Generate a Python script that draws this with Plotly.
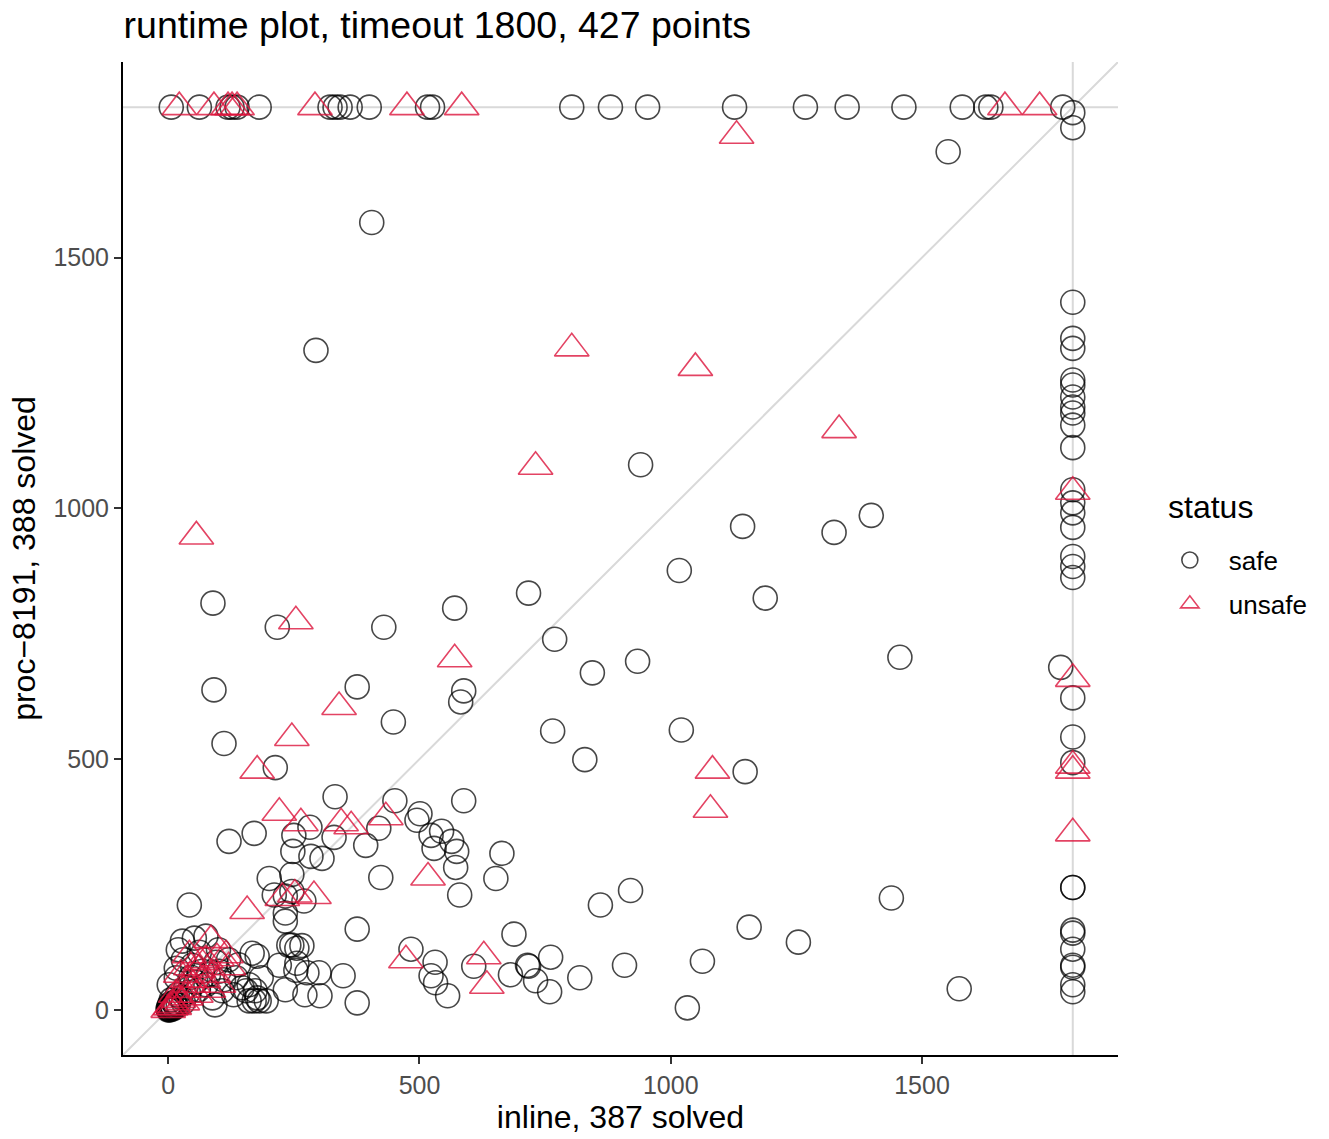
import plotly.graph_objects as go

TIMEOUT = 1800
AX_RANGE = [-90, 1890]
TICKS = [0, 500, 1000, 1500]
TITLE = "runtime plot, timeout 1800, 427 points"
X_TITLE = "inline, 387 solved"
Y_TITLE = "proc\u22128191, 388 solved"
LEGEND_TITLE = "status"

# ---- safe (circles) ----
safe_x = [
    # proc timed out (top row)
    6, 62, 119, 127, 137, 181, 322, 332, 342, 362, 400, 516, 526, 803, 880, 954,
    1127, 1268, 1351, 1464, 1580, 1627, 1637, 1780, 1800, 1800, 1552,
    # inline timed out (right column)
    1800, 1800, 1800, 1800, 1800, 1800, 1800, 1800, 1800, 1800, 1800, 1800, 1800,
    1800, 1800, 1800, 1800, 1800, 1800, 1800, 1800, 1800, 1800, 1800, 1800, 1800,
    1800, 1800, 1800, 1776,
    # scattered
    405, 294, 940, 1143, 1325, 1399, 1017, 1188, 89, 570, 217, 429, 717, 769, 844,
    934, 1456, 91, 376, 588, 582, 448, 111, 765, 1021, 213, 829, 1148, 332, 451,
    588, 501, 495, 523, 544, 529, 564, 574, 572, 664, 652, 121, 171, 250, 282, 330,
    248, 284, 306, 393, 419, 201, 246, 423, 580, 376, 483, 531, 523, 532, 556, 608,
    688, 681, 715, 348, 376, 302, 300, 276, 254, 256, 266, 270, 920, 860, 1156,
    1254, 1063, 908, 1033, 819, 761, 717, 731, 759, 1439, 1574, 42, 211, 233, 246,
    233, 233, 177, 221, 246, 256, 272, 233, 173, 161, 181, 147, 93,
    # dense cluster near origin
    28, 52, 75, 16, 16, 2, 101, 107, 88, 68, 48, 135, 167, 161, 177, 195, 171, 155,
    185, 240, 0, 1, 2, 3, 5, 8, 10, 4, 12, 15, 20, 6, 25, 30, 18, 40, 35, 55, 60,
    45, 75, 80, 95, 110, 120, 130, 140, 62, 100, 30, 20, 0, 3, 7, 2, 9, 14,
]
safe_y = [
    1800, 1800, 1800, 1800, 1800, 1800, 1800, 1800, 1800, 1800, 1800, 1800, 1800,
    1800, 1800, 1800, 1800, 1800, 1800, 1800, 1800, 1800, 1800, 1800, 1789, 1759,
    1711,
    1411, 1339, 1319, 1256, 1246, 1222, 1202, 1190, 1166, 1121, 1037, 1011, 991,
    962, 904, 884, 862, 622, 544, 493, 244, 244, 159, 153, 121, 89, 85, 50, 36, 683,
    1570, 1315, 1087, 964, 952, 986, 876, 821, 811, 801, 763, 763, 831, 739, 672,
    695, 703, 638, 644, 636, 614, 574, 531, 556, 558, 483, 499, 475, 425, 417,
    417, 391, 378, 348, 356, 322, 336, 316, 284, 312, 262, 336, 352, 348, 364, 344,
    316, 306, 302, 328, 362, 262, 270, 264, 229, 161, 121, 95, 68, 54, 28, 87,
    151, 70, 89, 68, 14, 28, 74, 74, 79, 123, 128, 217, 238, 209, 165,
    135, 97, 89, 4, 64, 105, 87, 58, 36, 223, 42, 209, 229, 227, 236,
    193, 177, 107, 89, 129, 93, 30, 40, 38, 18, 18, 44, 10,
    137, 143, 147, 83, 64, 50, 77, 38, 24, 77, 89, 64, 113, 50, 24, 18, 18, 38,
    64, 129, 0, 2, 1, 5, 3, 8, 4, 12, 15, 6, 10, 20, 25, 15, 30, 35, 45, 55, 40,
    65, 50, 70, 95, 60, 100, 30, 90, 115, 120, 100, 120, 3, 0, 6, 9, 2, 11,
]

# ---- unsafe (triangles) ----
unsafe_x = [
    22, 91, 119, 127, 137, 292, 475, 584, 1665, 1734, 1131,
    1800, 1800, 1800, 1800, 1800,
    803, 1049, 1335, 731, 56, 254, 570, 340, 246, 177, 1083, 1079, 221, 264, 344,
    364, 433, 517, 157, 227, 290, 473, 628, 634, 252,
    85, 115, 97, 75, 42, 60, 40, 30, 20, 10, 5, 50, 70, 90, 25, 15, 35, 55, 80,
    100, 120, 65, 45, 0, 12, 28,
]
unsafe_y = [
    1800, 1800, 1800, 1800, 1800, 1800, 1800, 1800, 1800, 1800, 1743,
    1033, 660, 487, 477, 352,
    1319, 1280, 1156, 1083, 944, 775, 699, 604, 542, 477, 477, 399, 393, 372, 372,
    366, 384, 264, 197, 223, 227, 99, 107, 48, 230,
    139, 109, 103, 99, 109, 80, 60, 40, 20, 10, 5, 50, 60, 70, 70, 30, 25, 30, 40,
    50, 85, 95, 85, 0, 6, 15,
]

FONT = "Liberation Sans, Arial, Helvetica, sans-serif"

fig = go.Figure()
fig.add_trace(go.Scatter(
    x=safe_x, y=safe_y, mode="markers", name="safe", legendgroup="safe",
    marker=dict(symbol="circle-open", size=24, color="rgba(0,0,0,0.72)",
                line=dict(width=1.6, color="rgba(0,0,0,0.72)")),
))
fig.add_trace(go.Scatter(
    x=unsafe_x, y=unsafe_y, mode="markers", name="unsafe", legendgroup="unsafe",
    marker=dict(symbol="triangle-up-open", size=30, color="rgba(220,20,60,0.8)",
                line=dict(width=1.6, color="rgba(220,20,60,0.8)")),
))

ref_line = dict(color="#d9d9d9", width=2)
fig.add_shape(type="line", xref="x", yref="y", x0=AX_RANGE[0], y0=AX_RANGE[0],
              x1=AX_RANGE[1], y1=AX_RANGE[1], line=ref_line, layer="below")
fig.add_shape(type="line", xref="x", yref="y", x0=AX_RANGE[0], y0=TIMEOUT,
              x1=AX_RANGE[1], y1=TIMEOUT, line=ref_line, layer="below")
fig.add_shape(type="line", xref="x", yref="y", x0=TIMEOUT, y0=AX_RANGE[0],
              x1=TIMEOUT, y1=AX_RANGE[1], line=ref_line, layer="below")

axis_common = dict(
    range=AX_RANGE, tickvals=TICKS, showgrid=False, zeroline=False,
    showline=True, linecolor="black", linewidth=2, mirror=False,
    ticks="outside", ticklen=7, tickwidth=1.5, tickcolor="#333333",
    tickfont=dict(family=FONT, size=25, color="#4d4d4d"),
)

fig.add_annotation(text=LEGEND_TITLE, xref="paper", yref="paper",
                   x=1.048, y=0.552, xanchor="left", yanchor="middle",
                   showarrow=False, font=dict(family=FONT, size=32, color="black"))

fig.update_layout(
    width=1329, height=1139,
    margin=dict(l=123, r=211, t=62, b=84),
    paper_bgcolor="white", plot_bgcolor="white",
    font=dict(family=FONT, color="black"),
    title=dict(text=TITLE, x=0.093, xanchor="left", xref="container",
               y=1 - 25 / 1139, yanchor="middle", yref="container",
               font=dict(family=FONT, size=37.5, color="black")),
    xaxis=dict(**axis_common, title=dict(text=X_TITLE, standoff=6,
               font=dict(family=FONT, size=32, color="black"))),
    yaxis=dict(**axis_common, title=dict(text=Y_TITLE, standoff=8,
               font=dict(family=FONT, size=32, color="black"))),
    legend=dict(font=dict(family=FONT, size=26), x=1.033, y=0.522,
                xanchor="left", yanchor="top", bgcolor="rgba(0,0,0,0)",
                tracegroupgap=7, itemwidth=68),
    showlegend=True,
)

fig.write_html("out.html")
